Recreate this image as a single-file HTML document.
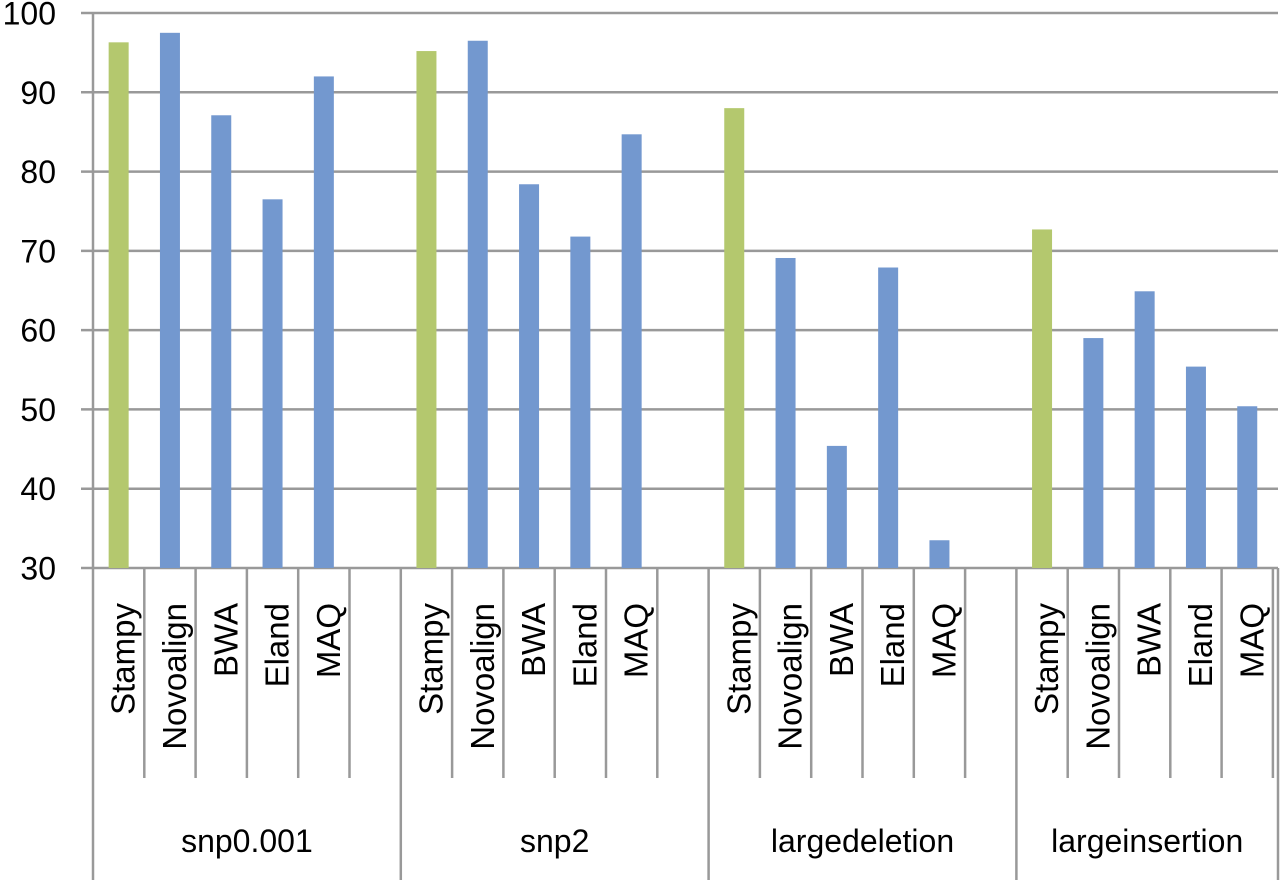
<!DOCTYPE html>
<html><head><meta charset="utf-8"><style>
body{margin:0;background:#fff;}
svg{display:block;font-family:"Liberation Sans",sans-serif;}
</style></head><body>
<svg id="chart" width="1280" height="886"></svg>
<script>
const groups=["snp0.001","snp2","largedeletion","largeinsertion"];
const aligners=["Stampy","Novoalign","BWA","Eland","MAQ"];
const vSnp001=[96.3,97.5,87.1,76.5,92.0];
const vSnp2=[95.2,96.5,78.4,71.8,84.7];
const vDel=[88.0,69.1,45.4,67.9,33.5];
const vIns=[72.7,59.0,64.9,55.4,50.4];
const yTicks=[30,40,50,60,70,80,90,100];
const series=[vSnp001,vSnp2,vDel,vIns];
const NS="http://www.w3.org/2000/svg";
const svg=document.getElementById('chart');
const X0=93,SLOT=51.3,Y30=568,Y100=13;
const y=v=>Y30-(v-30)*(Y30-Y100)/70;
const slotX=i=>X0+i*SLOT;
function mk(t,a,p){const e=document.createElementNS(NS,t);for(const k in a)e.setAttribute(k,a[k]);(p||svg).appendChild(e);return e;}
yTicks.forEach(t=>{
  const l=mk('line',{x1:81,x2:1278,y1:y(t),y2:y(t),stroke:'#999','stroke-width':2.5});
  
  
  const tx=mk('text',{x:56,y:y(t)+11.5,'text-anchor':'end','font-size':32,fill:'#000'});
  tx.textContent=t;
  
  
});
let s=0;
groups.forEach((g,gi)=>{
  const start=s;
  aligners.forEach((a,ai)=>{
    const v=series[gi][ai];
    const cx=slotX(s)+SLOT/2;
    const r=mk('rect',{x:cx-10,y:y(v),width:20,height:Y30-y(v),fill:ai===0?'#b4c86e':'#7398cf'});
    
    
    const t=mk('text',{x:cx+16,y:603,'text-anchor':'end','font-size':33,fill:'#000',transform:`rotate(-90 ${cx+16} 603)`});
    t.textContent=a;
    
    
    s++;
    const lx=slotX(s);
    const l=mk('line',{x1:lx,x2:lx,y1:Y30,y2:778,stroke:'#999','stroke-width':2.5});
    
    
  });
  if(gi<groups.length-1)s++;
  const gx=gi<groups.length-1?slotX(s):1278;
  const gl=mk('line',{x1:gx,x2:gx,y1:Y30,y2:880,stroke:'#999','stroke-width':2.5});
  
  
  const gt=mk('text',{x:(slotX(start)+gx)/2,y:852,'text-anchor':'middle','font-size':32,fill:'#000'});
  gt.textContent=g;
  
  
});
const ax=mk('line',{x1:X0,x2:X0,y1:Y100,y2:880,stroke:'#999','stroke-width':2.5});


</script>
</body></html>
